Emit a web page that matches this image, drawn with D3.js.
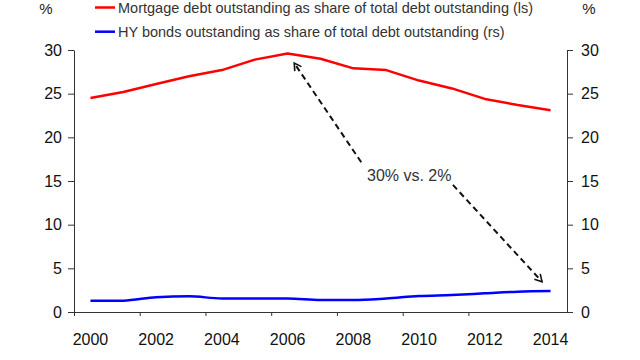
<!DOCTYPE html>
<html>
<head>
<meta charset="utf-8">
<script src="https://cdn.jsdelivr.net/npm/d3@7"></script>
<style>
  body { margin: 0; background: #fff; }
  svg text { font-family: "Liberation Sans", Arial, sans-serif; }
</style>
</head>
<body>
<div id="chart"></div>
<script>
const years = [2000, 2001, 2002, 2003, 2004, 2005, 2006, 2007, 2008, 2009, 2010, 2011, 2012, 2013, 2014]
const mortgage = [24.5, 25.2, 26.1, 27.0, 27.7, 28.9, 29.6, 29.0, 27.9, 27.7, 26.5, 25.6, 24.4, 23.7, 23.1]
const hyBonds = [1.3, 1.3, 1.7, 1.8, 1.55, 1.55, 1.55, 1.37, 1.37, 1.55, 1.83, 1.95, 2.14, 2.33, 2.4]
const yTicks = [0, 5, 10, 15, 20, 25, 30]
const xTickYears = [2000, 2002, 2004, 2006, 2008, 2010, 2012, 2014]
const seriesNames = [
  'Mortgage debt outstanding as share of total debt outstanding (ls)',
  'HY bonds outstanding as share of total debt outstanding (rs)'
]
const seriesColors = ['#ff0000', '#0000ff']
const noteText = '30% vs. 2%'
// arrows in data units: [year, value] from text -> tip
const arrows = [
  { from: [2008.24, 17.15], to: [2006.2, 28.5] },
  { from: [2011.03, 14.55], to: [2013.74, 3.47] }
]
const notePos = [2009.7, 15.7]

const width = 640, height = 360
const mLeft = 74, mRight = 567, mTop = 50, mBottom = 312

const svg = d3.select('#chart').append('svg')
  .attr('width', width)
  .attr('height', height)

const x = d3.scaleLinear().domain([1999.5, 2014.5]).range([mLeft, mRight])
const yL = d3.scaleLinear().domain([0, 30]).range([mBottom, mTop])
const yR = d3.scaleLinear().domain([0, 30]).range([mBottom, mTop])

// axes
const axisColor = '#333'

const gx = svg.append('g')
  .attr('transform', `translate(0,${mBottom})`)
  .call(d3.axisBottom(x)
    .tickValues(xTickYears.slice(0, -1).map(d => d - 0.5))
    .tickSize(4)
    .tickSizeOuter(0)
    .tickFormat(''))
gx.select('.domain').attr('stroke', axisColor)
gx.selectAll('.tick line').attr('stroke', axisColor)

svg.append('g')
  .selectAll('text')
  .data(xTickYears)
  .join('text')
  .attr('x', d => x(d))
  .attr('y', 345)
  .attr('text-anchor', 'middle')
  .attr('font-size', 16)
  .attr('fill', '#111')
  .text(d => d)

const gl = svg.append('g')
  .attr('transform', `translate(${mLeft},0)`)
  .call(d3.axisLeft(yL).tickValues(yTicks).tickSize(6).tickSizeOuter(0).tickPadding(6))
gl.select('.domain').attr('stroke', axisColor)
gl.selectAll('.tick line').attr('stroke', axisColor)
gl.selectAll('.tick text').attr('font-size', 16).attr('fill', '#111')
  .style('font-family', '"Liberation Sans", Arial, sans-serif')

const gr = svg.append('g')
  .attr('transform', `translate(${mRight},0)`)
  .call(d3.axisRight(yR).tickValues(yTicks).tickSize(6).tickSizeOuter(0).tickPadding(8))
gr.select('.domain').attr('stroke', axisColor)
gr.selectAll('.tick line').attr('stroke', axisColor)
gr.selectAll('.tick text').attr('font-size', 16).attr('fill', '#111')
  .style('font-family', '"Liberation Sans", Arial, sans-serif')

svg.append('text').attr('x', 46).attr('y', 14)
  .attr('text-anchor', 'middle').attr('font-size', 15).attr('fill', '#222').text('%')
svg.append('text').attr('x', 589).attr('y', 14)
  .attr('text-anchor', 'middle').attr('font-size', 15).attr('fill', '#222').text('%')

// lines
const lineL = d3.line().x((d, i) => x(years[i])).y(d => yL(d))
const lineR = d3.line().x((d, i) => x(years[i])).y(d => yR(d)).curve(d3.curveMonotoneX)

svg.append('path')
  .datum(mortgage)
  .attr('d', lineL)
  .attr('fill', 'none')
  .attr('stroke', seriesColors[0])
  .attr('stroke-width', 2.5)
  .attr('stroke-linejoin', 'round')

svg.append('path')
  .datum(hyBonds)
  .attr('d', lineR)
  .attr('fill', 'none')
  .attr('stroke', seriesColors[1])
  .attr('stroke-width', 2.5)

// legend
const legend = svg.append('g')
seriesNames.forEach((name, i) => {
  const ly = 7.5 + i * 24.2
  legend.append('line')
    .attr('x1', 95).attr('x2', 115)
    .attr('y1', ly).attr('y2', ly)
    .attr('stroke', seriesColors[i])
    .attr('stroke-width', 2.5)
  legend.append('text')
    .attr('x', 118)
    .attr('y', ly + 5.5)
    .attr('font-size', 14.5)
    .attr('fill', '#333')
    .text(name)
})

// annotation
svg.append('defs').append('marker')
  .attr('id', 'head')
  .attr('viewBox', '-8 -5 10 10')
  .attr('refX', 0).attr('refY', 0)
  .attr('markerWidth', 10).attr('markerHeight', 10)
  .attr('markerUnits', 'userSpaceOnUse')
  .attr('orient', 'auto')
  .append('path')
  .attr('d', 'M-7,-4 L0,0 L-7,4')
  .attr('fill', 'none')
  .attr('stroke', '#111')
  .attr('stroke-width', 1.6)

svg.append('g')
  .selectAll('line')
  .data(arrows)
  .join('line')
  .attr('x1', d => x(d.from[0])).attr('y1', d => yL(d.from[1]))
  .attr('x2', d => x(d.to[0])).attr('y2', d => yL(d.to[1]))
  .attr('stroke', '#111')
  .attr('stroke-width', 2)
  .attr('stroke-dasharray', '6,4')
  .attr('marker-end', 'url(#head)')

svg.append('text')
  .attr('x', x(notePos[0]))
  .attr('y', yL(notePos[1]) + 6)
  .attr('text-anchor', 'middle')
  .attr('font-size', 16)
  .attr('fill', '#333')
  .text(noteText)
</script>
</body>
</html>
